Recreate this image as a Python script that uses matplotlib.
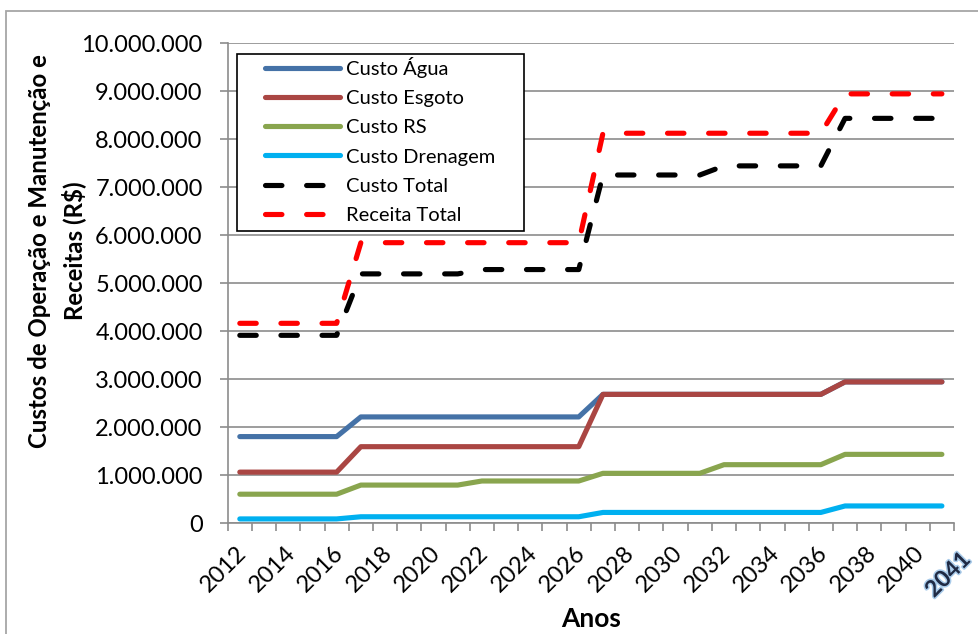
import matplotlib
matplotlib.use("Agg")
import matplotlib.pyplot as plt
import matplotlib.patheffects as pe
from matplotlib.patches import Rectangle
from matplotlib.ticker import FuncFormatter, MultipleLocator
from matplotlib.transforms import offset_copy, Affine2D

# Years of the planning horizon
anos = list(range(2012, 2042))

# Annual operation & maintenance costs and revenues (R$)
custo_agua = [1.80e6, 1.80e6, 1.80e6, 1.80e6, 1.80e6,
              2.21e6, 2.21e6, 2.21e6, 2.21e6, 2.21e6,
              2.21e6, 2.21e6, 2.21e6, 2.21e6, 2.21e6,
              2.68e6, 2.68e6, 2.68e6, 2.68e6, 2.68e6,
              2.68e6, 2.68e6, 2.68e6, 2.68e6, 2.68e6,
              2.94e6, 2.94e6, 2.94e6, 2.94e6, 2.94e6]
custo_esgoto = [1.06e6, 1.06e6, 1.06e6, 1.06e6, 1.06e6,
                1.59e6, 1.59e6, 1.59e6, 1.59e6, 1.59e6,
                1.59e6, 1.59e6, 1.59e6, 1.59e6, 1.59e6,
                2.68e6, 2.68e6, 2.68e6, 2.68e6, 2.68e6,
                2.68e6, 2.68e6, 2.68e6, 2.68e6, 2.68e6,
                2.94e6, 2.94e6, 2.94e6, 2.94e6, 2.94e6]
custo_rs = [0.60e6, 0.60e6, 0.60e6, 0.60e6, 0.60e6,
            0.79e6, 0.79e6, 0.79e6, 0.79e6, 0.79e6,
            0.875e6, 0.875e6, 0.875e6, 0.875e6, 0.875e6,
            1.035e6, 1.035e6, 1.035e6, 1.035e6, 1.035e6,
            1.215e6, 1.215e6, 1.215e6, 1.215e6, 1.215e6,
            1.43e6, 1.43e6, 1.43e6, 1.43e6, 1.43e6]
custo_drenagem = [0.085e6, 0.085e6, 0.085e6, 0.085e6, 0.085e6,
                  0.13e6, 0.13e6, 0.13e6, 0.13e6, 0.13e6,
                  0.13e6, 0.13e6, 0.13e6, 0.13e6, 0.13e6,
                  0.22e6, 0.22e6, 0.22e6, 0.22e6, 0.22e6,
                  0.22e6, 0.22e6, 0.22e6, 0.22e6, 0.22e6,
                  0.355e6, 0.355e6, 0.355e6, 0.355e6, 0.355e6]
custo_total = [3.91e6, 3.91e6, 3.91e6, 3.91e6, 3.91e6,
               5.19e6, 5.19e6, 5.19e6, 5.19e6, 5.19e6,
               5.28e6, 5.28e6, 5.28e6, 5.28e6, 5.28e6,
               7.25e6, 7.25e6, 7.25e6, 7.25e6, 7.25e6,
               7.44e6, 7.44e6, 7.44e6, 7.44e6, 7.44e6,
               8.43e6, 8.43e6, 8.43e6, 8.43e6, 8.43e6]
receita_total = [4.16e6, 4.16e6, 4.16e6, 4.16e6, 4.16e6,
                 5.84e6, 5.84e6, 5.84e6, 5.84e6, 5.84e6,
                 5.84e6, 5.84e6, 5.84e6, 5.84e6, 5.84e6,
                 8.12e6, 8.12e6, 8.12e6, 8.12e6, 8.12e6,
                 8.12e6, 8.12e6, 8.12e6, 8.12e6, 8.12e6,
                 8.94e6, 8.94e6, 8.94e6, 8.94e6, 8.94e6]

series = [
    ("Custo Água", custo_agua, "#4572A7", "-"),
    ("Custo Esgoto", custo_esgoto, "#AA4643", "-"),
    ("Custo RS", custo_rs, "#89A54E", "-"),
    ("Custo Drenagem", custo_drenagem, "#00B0F0", "-"),
    ("Custo Total", custo_total, "#000000", "--"),
    ("Receita Total", receita_total, "#FF0000", "--"),
]

plt.rcParams["font.family"] = ["Lato", "DejaVu Sans"]

W, H = 979, 634
fig = plt.figure(figsize=(W / 100, H / 100), dpi=100)
fig_px = Affine2D().scale(1 / W, 1 / H) + fig.transFigure

# chart-area border
fig.patches.append(Rectangle((6, -20), W + 40, H - 11 + 20, transform=fig_px,
                             fill=False, edgecolor="#A6A6A6", linewidth=1.3))

left, right, top, bottom = 227.7, 954, 43, 523
ax = fig.add_axes([left / W, 1 - bottom / H, (right - left) / W, (bottom - top) / H])

xpos = list(range(len(anos)))
for nome, vals, cor, estilo in series:
    if estilo == "-":
        ax.plot(xpos, vals, color=cor, lw=3.7, solid_capstyle="round",
                solid_joinstyle="round", label=nome)
    else:
        ax.plot(xpos, vals, color=cor, lw=3.7, linestyle=(0, (3.2, 4.8)),
                dash_capstyle="round", dash_joinstyle="round", label=nome)

ax.set_xlim(-0.5, len(anos) - 0.5)
ax.set_ylim(0, 10e6)
ax.yaxis.set_major_locator(MultipleLocator(1e6))
ax.yaxis.set_major_formatter(FuncFormatter(
    lambda v, p: "0" if v == 0 else f"{int(round(v)):,}".replace(",", ".")))
ax.grid(axis="y", color="#8C8C8C", linewidth=1.2)
ax.set_axisbelow(True)

for s in ["top", "right"]:
    ax.spines[s].set_visible(False)
for s in ["left", "bottom"]:
    ax.spines[s].set_color("#8C8C8C")
    ax.spines[s].set_linewidth(1.2)

# tick marks sit on category boundaries
ax.set_xticks([i - 0.5 for i in range(len(anos) + 1)])
ax.set_xticklabels([])
ax.tick_params(axis="x", length=6, color="#8C8C8C", width=1.2)
ax.tick_params(axis="y", length=6, color="#8C8C8C", width=1.2, pad=12, labelsize=17)

# year labels, every other year
lab_tr = offset_copy(ax.transData, fig=fig, x=2.5, y=-19, units="points")
for i in range(0, len(anos) - 1, 2):
    ax.text(i, 0, str(anos[i]), transform=lab_tr, rotation=45, ha="right",
            va="center", rotation_mode="anchor", fontsize=17, clip_on=False)

# final year label
last_tr = offset_copy(ax.transData, fig=fig, x=18, y=-24, units="points")
ax.text(len(anos) - 1, 0, str(anos[-1]), transform=last_tr,
        rotation=45, ha="right", va="center", rotation_mode="anchor",
        fontsize=16.5, fontweight="bold", color="#1F2A44",
        path_effects=[pe.withStroke(linewidth=2.2, foreground="#A9CBEA")],
        clip_on=False)

fig.text(591 / W, 1 - 619 / H, "Anos", ha="center", va="center",
         fontsize=19, fontweight="bold")
fig.text(57 / W, 1 - 251 / H, "Custos de Operação e Manutenção e\nReceitas (R$)",
         rotation=90, ha="center", va="center", fontsize=17.3, fontweight="bold",
         linespacing=1.45)

# legend: white box with a thin black border, entries inside
fig.patches.append(Rectangle((237, H - 231), 287, 177, transform=fig_px,
                             facecolor="white", edgecolor="black", linewidth=1.2,
                             zorder=4))
leg = fig.legend(loc="upper left", bbox_to_anchor=(265 / W, 1 - 57 / H),
                 borderaxespad=0, borderpad=0, frameon=False, fontsize=14.5,
                 handlelength=3.7, handletextpad=0.3, labelspacing=0.6)
leg.set_zorder(5)

fig.savefig("out.png", dpi=100, facecolor="white")
